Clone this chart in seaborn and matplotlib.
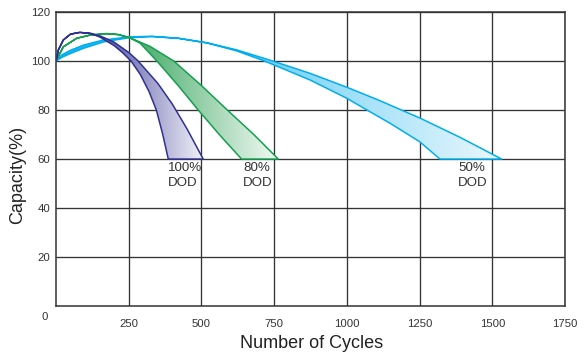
import numpy as np
import pandas as pd
import matplotlib
matplotlib.use("Agg")
import matplotlib.pyplot as plt
import matplotlib.font_manager as fm
import seaborn as sns
from matplotlib.patches import Polygon
from matplotlib.colors import LinearSegmentedColormap

# ---------------- data ----------------
# 100% DOD band
dod100_upper_x = [0, 8, 25, 50, 82, 120, 151, 200, 250, 280, 350, 400, 450, 506]
dod100_upper_y = [100, 104.5, 108.6, 111.0, 111.7, 111.3, 110.3, 107.7, 103.5, 100.3, 90.9, 82.4, 72.4, 60]
dod100_lower_x = [0, 8, 25, 50, 82, 120, 151, 200, 230, 258, 290, 320, 345, 366, 386]
dod100_lower_y = [100, 104.5, 108.6, 111.0, 111.7, 111.2, 109.8, 106.3, 103.3, 100, 94.5, 87.5, 80, 70.5, 60]

# 80% DOD band
dod80_upper_x = [0, 25, 71, 117, 174, 215, 254, 323, 405, 500, 589, 680, 764]
dod80_upper_y = [100, 105.8, 109.3, 110.6, 111.2, 110.8, 109.5, 106.0, 100, 90, 80, 70, 60]
dod80_lower_x = [0, 25, 71, 117, 174, 215, 254, 290, 347, 420, 489, 565, 638]
dod80_lower_y = [100, 105.8, 109.3, 110.6, 111.2, 110.8, 109.5, 107.2, 100, 90, 80, 69.5, 60]

# 50% DOD band
dod50_upper_x = [0, 20, 48, 94, 163, 254, 330, 420, 518, 620, 713, 750, 873, 1000, 1110, 1211, 1250, 1390, 1532]
dod50_upper_y = [100, 102.5, 104.3, 106.5, 108.6, 109.9, 110.1, 109.3, 107.5, 104.6, 101.2, 99.8, 95.0, 89.3, 84.0, 78.8, 76.8, 68.8, 60]
dod50_lower_x = [0, 20, 48, 94, 163, 254, 330, 420, 518, 620, 713, 750, 873, 1000, 1062, 1150, 1250, 1320]
dod50_lower_y = [100, 101.5, 103.0, 105.2, 107.8, 109.6, 110.0, 109.3, 107.4, 104.2, 100.2, 98.4, 92.3, 84.8, 80.5, 74.5, 67.1, 60]

band_names = ["100% DOD", "80% DOD", "50% DOD"]
band_labels = ["100%\nDOD", "80%\nDOD", "50%\nDOD"]

x_ticks = [250, 500, 750, 1000, 1250, 1500, 1750]
y_ticks = [20, 40, 60, 80, 100, 120]

# ---------------- styling ----------------
sns.set_theme(style="white")
plt.rcParams["font.family"] = ["Liberation Sans", "DejaVu Sans"]

installed = {f.name for f in fm.fontManager.ttflist}
if "Liberation Sans Narrow" in installed:
    tick_family, tick_size = ["Liberation Sans Narrow", "DejaVu Sans"], 9.2
else:
    tick_family, tick_size = ["Liberation Sans", "DejaVu Sans"], 8.2

fig = plt.figure(figsize=(5.84, 3.55), dpi=100)
ax = fig.add_axes([0.0959, 0.138, 0.8716, 0.828])

bands = [
    dict(name=band_names[2], ux=dod50_upper_x, uy=dod50_upper_y, lx=dod50_lower_x, ly=dod50_lower_y,
         line="#00aeef", c0="#10b2ef", c1="#eaf7fd", g0=0, z=2, label=band_labels[2], lab_x=1382),
    dict(name=band_names[1], ux=dod80_upper_x, uy=dod80_upper_y, lx=dod80_lower_x, ly=dod80_lower_y,
         line="#14a04f", c0="#38a55e", c1="#f2faf4", g0=230, z=3, label=band_labels[1], lab_x=643),
    dict(name=band_names[0], ux=dod100_upper_x, uy=dod100_upper_y, lx=dod100_lower_x, ly=dod100_lower_y,
         line="#2e3192", c0="#3e3e98", c1="#f2f2f9", g0=110, z=4, label=band_labels[0], lab_x=385),
]

for b in bands:
    # closed outline: upper curve, then lower curve reversed
    ox = list(b["ux"]) + list(b["lx"])[::-1]
    oy = list(b["uy"]) + list(b["ly"])[::-1]
    df = pd.DataFrame({"cycles": ox, "capacity": oy, "band": b["name"]})

    poly = Polygon(np.column_stack([ox, oy]), closed=True, facecolor="none",
                   edgecolor="none", transform=ax.transData)
    ax.add_patch(poly)
    cmap = LinearSegmentedColormap.from_list("g", [b["c0"], b["c1"]])
    grad = np.linspace(0, 1, 256).reshape(1, -1)
    xmax = max(max(b["ux"]), max(b["lx"]))
    im = ax.imshow(grad, cmap=cmap, aspect="auto", origin="lower",
                   extent=[b["g0"], xmax, 55, 115], zorder=b["z"], interpolation="bilinear")
    im.set_clip_path(poly)

    sns.lineplot(data=df, x="cycles", y="capacity", sort=False, estimator=None,
                 color=b["line"], lw=1.1, ax=ax, zorder=b["z"] + 0.5, legend=False)

    ax.text(b["lab_x"], 58.6, b["label"], ha="left", va="top", fontsize=9.6,
            color="#333333", linespacing=1.25, zorder=6)

ax.set_xlim(0, 1750)
ax.set_ylim(0, 120)
ax.set_xticks(x_ticks)
ax.set_yticks(y_ticks)
ax.set_xticklabels([str(v) for v in x_ticks])
ax.set_yticklabels([str(v) for v in y_ticks])
for lab in ax.get_xticklabels() + ax.get_yticklabels():
    lab.set_fontfamily(tick_family)
    lab.set_fontsize(tick_size)
    lab.set_color("#333333")
ax.tick_params(axis="both", length=0)
ax.tick_params(axis="x", pad=9.5)
ax.tick_params(axis="y", pad=4)

# the "0" of the value axis, sitting below the corner
ax.annotate("0", xy=(0, 0), xycoords="axes fraction", xytext=(-5.8, -8),
            textcoords="offset points", ha="right", va="center", fontsize=tick_size,
            color="#333333", family=tick_family)

ax.grid(True, color="#333333", lw=0.95)
ax.set_axisbelow(True)
for s in ax.spines.values():
    s.set_color("#333333")
    s.set_linewidth(1.1)
    s.set_visible(True)

ax.set_xlabel("Number of Cycles", fontsize=13, color="#222222")
ax.set_ylabel("Capacity(%)", fontsize=13, color="#222222")
ax.xaxis.set_label_coords(0.503, -0.098)
ax.yaxis.set_label_coords(-0.058, 0.446)

fig.savefig("out.png", dpi=100, facecolor="white")
